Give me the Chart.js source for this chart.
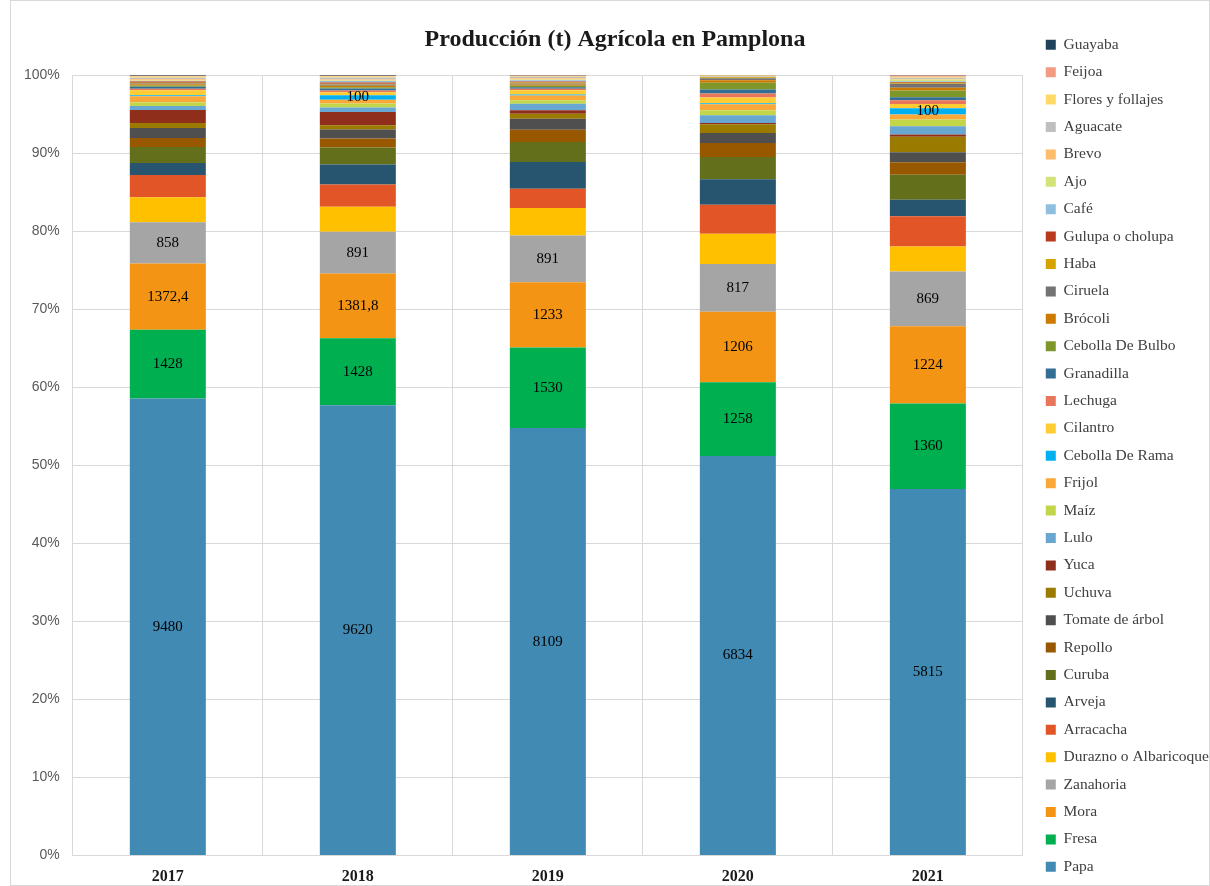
<!DOCTYPE html>
<html>
<head>
<meta charset="utf-8">
<script src="https://cdn.jsdelivr.net/npm/chart.js@4/dist/chart.umd.min.js"></script>
<style>
  html, body { margin: 0; padding: 0; background: #fff; }
  #c { position: absolute; left: 0; top: 0; display: block; }
  #frame { position: absolute; left: 10px; top: 0; width: 1200px; height: 886px; box-sizing: border-box; border: 1px solid #d9d9d9; pointer-events: none; }
</style>
</head>
<body>
<canvas id="c" width="1210" height="886"></canvas>
<div id="frame"></div>
<script>
// ---- Data (toneladas) ----
const years = ['2017', '2018', '2019', '2020', '2021'];
const yTicks = [0, 10, 20, 30, 40, 50, 60, 70, 80, 90, 100];

const papa         = [9480, 9620, 8109, 6834, 5815];
const fresa        = [1428, 1428, 1530, 1258, 1360];
const mora         = [1372.4, 1381.8, 1233, 1206, 1224];
const zanahoria    = [858, 891, 891, 817, 869];
const durazno      = [519, 534, 518, 517, 397];
const arracacha    = [457, 477, 367, 497, 477];
const arveja       = [249, 427, 506, 434, 265];
const curuba       = [332, 363, 379, 382, 397];
const repollo      = [186, 192, 235, 239, 196];
const tomateArbol  = [210, 192, 209, 171, 159];
const uchuva       = [104, 92, 95, 149, 245];
const yuca         = [270, 284, 63, 22, 37];
const lulo         = [81, 94, 127, 131, 132];
const maiz         = [81, 85, 63, 86, 106];
const frijol       = [120, 80, 90, 105, 80];
const cebollaRama  = [25, 100, 20, 17, 100];
const cilantro     = [100, 60, 80, 95, 64];
const lechuga      = [35, 40, 30, 68, 60];
const granadilla   = [40, 40, 30, 68, 50];
const cebollaBulbo = [25, 30, 25, 119, 106];
const brocoli      = [25, 30, 25, 40, 45];
const ciruela      = [15, 25, 20, 37, 64];
const haba         = [15, 20, 20, 15, 15];
const gulupa       = [30, 25, 15, 5, 12];
const cafe         = [10, 30, 25, 3, 12];
const ajo          = [10, 15, 15, 3, 25];
const brevo        = [25, 20, 25, 3, 10];
const aguacate     = [30, 40, 25, 10, 20];
const flores       = [25, 30, 15, 5, 15];
const feijoa       = [20, 10, 10, 5, 20];
const guayaba      = [13, 15, 10, 5, 8];

// which values carry a data label
const labelAll = [true, true, true, true, true];
const labelRama = [false, true, false, false, true];
const labelNone = [false, false, false, false, false];

// series, bottom of stack first
const series = [
  ['Papa', papa, '#418AB3', labelAll],
  ['Fresa', fresa, '#00B050', labelAll],
  ['Mora', mora, '#F49414', labelAll],
  ['Zanahoria', zanahoria, '#A5A5A5', labelAll],
  ['Durazno o Albaricoque', durazno, '#FFC000', labelNone],
  ['Arracacha', arracacha, '#E15527', labelNone],
  ['Arveja', arveja, '#27546E', labelNone],
  ['Curuba', curuba, '#636F1B', labelNone],
  ['Repollo', repollo, '#985800', labelNone],
  ['Tomate de árbol', tomateArbol, '#4F4F4F', labelNone],
  ['Uchuva', uchuva, '#9B7A00', labelNone],
  ['Yuca', yuca, '#8F2E1A', labelNone],
  ['Lulo', lulo, '#67A7D1', labelNone],
  ['Maíz', maiz, '#C3D64A', labelNone],
  ['Frijol', frijol, '#FBA83A', labelNone],
  ['Cebolla De Rama', cebollaRama, '#00B0F0', labelRama],
  ['Cilantro', cilantro, '#FFCD33', labelNone],
  ['Lechuga', lechuga, '#E8765A', labelNone],
  ['Granadilla', granadilla, '#336F95', labelNone],
  ['Cebolla De Bulbo', cebollaBulbo, '#7F972A', labelNone],
  ['Brócoli', brocoli, '#CC7A00', labelNone],
  ['Ciruela', ciruela, '#737373', labelNone],
  ['Haba', haba, '#D6A400', labelNone],
  ['Gulupa o cholupa', gulupa, '#BA3A20', labelNone],
  ['Café', cafe, '#8FBFDF', labelNone],
  ['Ajo', ajo, '#D4E27A', labelNone],
  ['Brevo', brevo, '#FFBC6A', labelNone],
  ['Aguacate', aguacate, '#BFBFBF', labelNone],
  ['Flores y follajes', flores, '#FFDA66', labelNone],
  ['Feijoa', feijoa, '#F29A82', labelNone],
  ['Guayaba', guayaba, '#21425B', labelNone]
];

// totals per year for 100% stacking
const totals = years.map((_, i) => series.reduce((s, d) => s + d[1][i], 0));

const datasets = series.map(([name, vals, color, lbl]) => ({
  label: name,
  data: vals.map((v, i) => v / totals[i] * 100),
  raw: vals,
  showLbl: lbl,
  backgroundColor: color,
  borderWidth: 0,
  barPercentage: 0.5,
  categoryPercentage: 0.8
}));

const fmt = v => String(v).replace('.', ',');
const serif = '"Liberation Serif", "Times New Roman", serif';

const valueLabels = {
  id: 'valueLabels',
  afterDatasetsDraw(chart) {
    const ctx = chart.ctx;
    ctx.save();
    ctx.font = '15px ' + serif;
    ctx.fillStyle = '#000';
    ctx.textAlign = 'center';
    ctx.textBaseline = 'middle';
    chart.data.datasets.forEach((ds, di) => {
      const meta = chart.getDatasetMeta(di);
      meta.data.forEach((bar, i) => {
        if (!ds.showLbl[i]) return;
        const { x, y, base } = bar.getProps(['x', 'y', 'base'], true);
        ctx.fillText(fmt(ds.raw[i]), x, (y + base) / 2);
      });
    });
    ctx.restore();
  }
};

new Chart(document.getElementById('c'), {
  type: 'bar',
  data: { labels: years, datasets },
  options: {
    responsive: false,
    animation: false,
    layout: { padding: { left: 11, right: -9, top: 14, bottom: -11.6 } },
    plugins: {
      title: {
        display: true,
        text: 'Producción (t) Agrícola en Pamplona',
        color: '#1a1a1a',
        font: { family: serif, size: 24, weight: 'bold' },
        padding: { top: 11.6, bottom: 20.6 }
      },
      legend: {
        position: 'right',
        reverse: true,
        labels: {
          boxWidth: 10,
          boxHeight: 10,
          padding: 11.9,
          color: '#404040',
          font: { family: serif, size: 15.5 }
        }
      },
      tooltip: { enabled: false }
    },
    scales: {
      x: {
        stacked: true,
        grid: { color: '#d9d9d9', offset: true, drawTicks: false },
        border: { color: '#d9d9d9' },
        ticks: {
          padding: 11.4,
          color: '#1a1a1a',
          font: { family: serif, size: 16, weight: 'bold' }
        }
      },
      y: {
        stacked: true,
        min: 0,
        max: 100,
        afterBuildTicks(scale) { scale.ticks = yTicks.map(v => ({ value: v })); },
        grid: { color: '#d9d9d9', drawTicks: false },
        border: { color: '#d9d9d9' },
        ticks: {
          padding: 13,
          color: '#595959',
          font: { family: '"Liberation Sans", Arial, sans-serif', size: 14 },
          callback: v => v + '%'
        }
      },
      gap: {
        type: 'linear',
        position: 'right',
        display: true,
        min: 0,
        max: 1,
        grid: { display: false, drawTicks: false },
        border: { display: false },
        ticks: { display: false },
        afterFit(scale) { scale.width = 11; }
      }
    }
  },
  plugins: [valueLabels]
});
</script>
</body>
</html>
